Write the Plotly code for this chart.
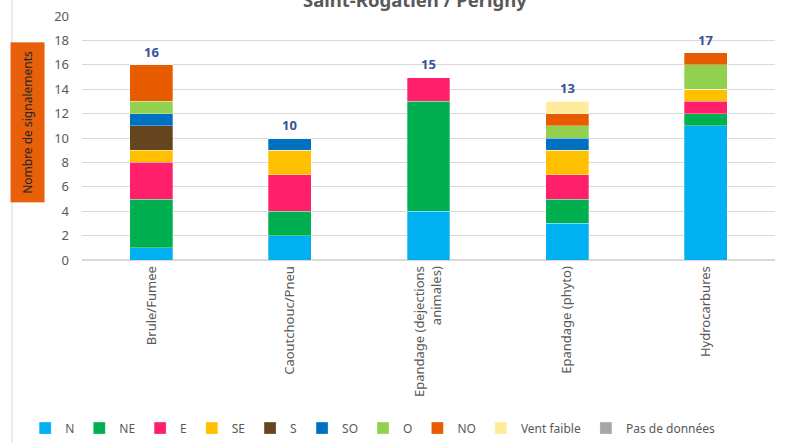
import plotly.graph_objects as go

categories = ["Brule/Fumee", "Caoutchouc/Pneu", "Epandage (dejections<br>animales)",
              "Epandage (phyto)", "Hydrocarbures"]
series_names = ["N", "NE", "E", "SE", "S", "SO", "O", "NO", "Vent faible", "Pas de données"]
N = [1, 2, 4, 3, 11]
NE = [4, 2, 9, 2, 1]
E = [3, 3, 2, 2, 1]
SE = [1, 2, 0, 2, 1]
S = [2, 0, 0, 0, 0]
SO = [1, 1, 0, 1, 0]
O = [1, 0, 0, 1, 2]
NO = [3, 0, 0, 1, 1]
vent_faible = [0, 0, 0, 1, 0]
pas_de_donnees = [0, 0, 0, 0, 0]
series_values = [N, NE, E, SE, S, SO, O, NO, vent_faible, pas_de_donnees]
colors = ["#00B0F0", "#00B050", "#FF1F6B", "#FFC000", "#654520", "#0070C0",
          "#92D050", "#E85C00", "#FFEB9C", "#A6A6A6"]

font = "Noto Sans"
fig = go.Figure()
for name, vals, col in zip(series_names, series_values, colors):
    fig.add_trace(go.Bar(x=categories, y=vals, name=name, marker_color=col,
                         marker_line=dict(color="rgba(255,255,255,0.6)", width=0.5)))

totals = [sum(v[i] for v in series_values) for i in range(len(categories))]
for c, t in zip(categories, totals):
    fig.add_annotation(x=c, y=t, text=f"<b>{t}</b>", showarrow=False, yanchor="bottom",
                       yshift=2, font=dict(family=font, size=13, color="#3B4F9C"))

fig.add_annotation(xref="paper", yref="paper", x=0.481, y=1, yanchor="middle", yshift=17,
                   text="<b>Saint-Rogatien / Perigny</b>", showarrow=False,
                   font=dict(family=font, size=18.5, color="#595959"))
fig.add_annotation(xref="paper", yref="paper", x=-0.078, xanchor="center", y=0.566,
                   yanchor="middle", textangle=-90,
                   text="Nombre de signalements", showarrow=False, bgcolor="#E8600A",
                   borderpad=8, font=dict(family=font, size=12, color="#262626"))
fig.add_shape(type="line", xref="paper", yref="paper", x0=-0.101, x1=-0.101, y0=-0.8, y1=1.1,
              line=dict(color="#D9D9D9", width=1))

fig.update_layout(
    barmode="stack", bargap=0.69, width=794, height=443,
    margin=dict(l=82, r=19, t=16, b=183, autoexpand=False),
    plot_bgcolor="white", paper_bgcolor="white",
    font=dict(family=font, color="#595959"),
    yaxis=dict(range=[0, 20], dtick=2, gridcolor="#D9D9D9", gridwidth=1, zeroline=True,
               zerolinecolor="#D9D9D9", tickfont=dict(size=13, color="#595959"),
               ticklabelstandoff=12, automargin=False, ticklabeloverflow="allow"),
    xaxis=dict(tickangle=-90, tickfont=dict(size=13, color="#595959"), showline=True,
               linecolor="#D9D9D9", automargin=False),
    legend=dict(orientation="h", x=-0.082, xanchor="left", y=-0.689,
                yanchor="middle", font=dict(size=12, color="#595959"),
                itemwidth=30, traceorder="normal"),
    showlegend=True,
)
fig.write_html("out.html", post_script="document.body.style.margin='0';",
               config={"displayModeBar": False})
